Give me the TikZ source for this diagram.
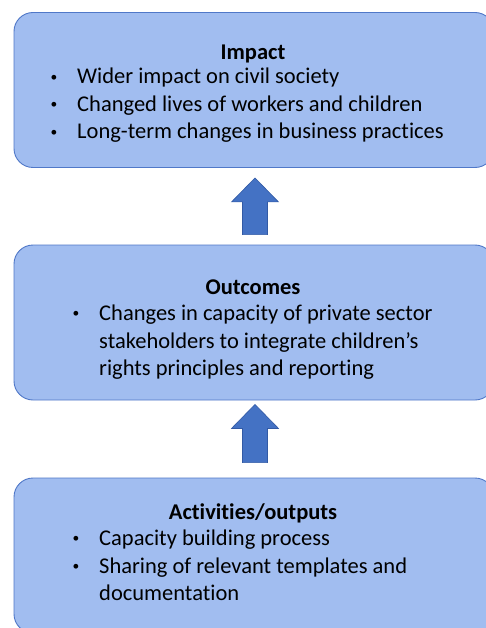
\documentclass[tikz,border=0pt]{standalone}
\usepackage{fontspec}
\usepackage{graphicx}
\setmainfont[Ligatures=NoCommon]{Carlito}
\usetikzlibrary{calc}
\definecolor{boxfill}{RGB}{161,189,240}
\definecolor{boxline}{RGB}{80,120,200}
\definecolor{arrowfill}{RGB}{68,114,196}
\definecolor{arrowline}{RGB}{50,90,165}
\tikzset{
  stage/.style={draw=boxline, line width=0.9pt, fill=boxfill, rounded corners=19pt,
    minimum width=480pt, minimum height=155pt, inner sep=0pt},
  blockarrow/.style={draw=arrowline, line width=0.6pt, fill=arrowfill, line join=miter},
  title/.style={font=\fontsize{22.5}{27.5}\selectfont\bfseries, anchor=base, inner sep=0pt},
  bullets/.style={font=\fontsize{22.5}{27.5}\selectfont, anchor=base west, inner sep=0pt}
}
\newcommand{\smallbullet}{\hspace*{1.5pt}\raisebox{2.8pt}{\scalebox{0.6}{\textbullet}}}
\newcommand{\bulletlist}[1]{\begin{tabular}[t]{@{}p{28pt}@{}l@{}}#1\end{tabular}}
% upward block arrow: #1 = tip, #2 = tail (named coordinates)
\newcommand{\uparrowblock}[2]{%
  \path let \p1=(#1), \p2=(#2) in
    [blockarrow] (\x1,\y1) -- (\x1+23.5pt,\y1-24pt) -- (\x1+12.5pt,\y1-24pt)
    -- (\x1+12.5pt,\y2) -- (\x1-12.5pt,\y2) -- (\x1-12.5pt,\y1-24pt)
    -- (\x1-23.5pt,\y1-24pt) -- cycle;}
\begin{document}
\begin{tikzpicture}[x=1pt,y=-1pt]
  \clip (0,0) rectangle (486,628);
  \fill[white] (0,0) rectangle (486,628);

  % the three stages
  \node[stage] (impact) at (254,90) {};
  \node[stage] (outcomes) at (254,322.5) {};
  \node[stage] (activities) at (254,555.5) {};

  % block arrows between the stages
  \coordinate (tip1) at ($(impact.south)+(1,10)$);
  \coordinate (tail1) at ($(outcomes.north)+(1,-10)$);
  \coordinate (tip2) at ($(outcomes.south)+(1,4)$);
  \coordinate (tail2) at ($(activities.north)+(1,-15)$);
  \uparrowblock{tip1}{tail1}
  \uparrowblock{tip2}{tail2}

  % Impact
  \node[title] (impactT) at (253,59.5) {Impact};
  \node[bullets] (impactL) at (49,84) {\bulletlist{%
    \smallbullet & Wider impact on civil society\\
    \smallbullet & Changed lives of workers and children\\
    \smallbullet & Long-term changes in business practices}};

  % Outcomes
  \node[title] (outcomesT) at (253,294.5) {Outcomes};
  \node[bullets] (outcomesL) at (71,320.5) {\bulletlist{%
    \smallbullet & Changes in capacity of private sector\\
     & stakeholders to integrate children’s\\
     & rights principles and reporting}};

  % Activities/outputs
  \node[title] (activitiesT) at (253,519.5) {Activities/outputs};
  \node[bullets] (activitiesL) at (71,545.5) {\bulletlist{%
    \smallbullet & Capacity building process\\
    \smallbullet & Sharing of relevant templates and\\
     & documentation}};
\end{tikzpicture}
\end{document}
